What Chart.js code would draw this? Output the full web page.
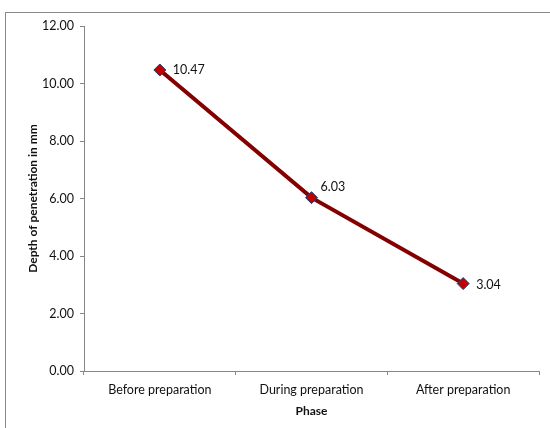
<!DOCTYPE html>
<html>
<head>
<meta charset="utf-8">
<script src="https://cdn.jsdelivr.net/npm/chart.js@4/dist/chart.umd.min.js"></script>
<style>
  html, body { margin: 0; padding: 0; background: #fff; }
  #wrap { width: 550px; height: 428px; position: relative; }
</style>
</head>
<body>
<div id="wrap"><canvas id="c" width="550" height="428"></canvas></div>
<script>
const categories = ["Before preparation", "During preparation", "After preparation"];
const depthValues = [10.47, 6.03, 3.04];
const yTicks = [0, 2, 4, 6, 8, 10, 12];
const xTitle = "Phase";
const yTitle = "Depth of penetration in mm";

const FONT = "Lato, 'Open Sans', sans-serif";

const frame = {
  id: 'frame',
  beforeDraw(chart) {
    const ctx = chart.ctx;
    ctx.save();
    ctx.strokeStyle = '#8a8a8a';
    ctx.lineWidth = 1;
    ctx.strokeRect(5.5, 12.5, 700, 700);
    ctx.restore();
  }
};

const labelOffsets = [[13, 0], [9, -11], [13, 1]];
const dataLabels = {
  id: 'dataLabels',
  afterDatasetsDraw(chart) {
    const ctx = chart.ctx;
    const meta = chart.getDatasetMeta(0);
    ctx.save();
    ctx.font = "12.5px " + FONT;
    ctx.fillStyle = '#111';
    ctx.textAlign = 'left';
    ctx.textBaseline = 'middle';
    meta.data.forEach((pt, i) => {
      const v = chart.data.datasets[0].data[i];
      const o = labelOffsets[i];
      ctx.fillText(v.toFixed(2), pt.x + o[0], pt.y + o[1]);
    });
    ctx.restore();
  }
};

new Chart(document.getElementById('c'), {
  type: 'line',
  data: {
    labels: categories,
    datasets: [{
      data: depthValues,
      borderColor: '#840000',
      borderWidth: 4,
      pointStyle: 'rectRot',
      pointRadius: 6,
      pointBackgroundColor: '#c00000',
      pointBorderColor: '#2a3a6a',
      pointBorderWidth: 1,
      tension: 0,
      fill: false
    }]
  },
  options: {
    responsive: false,
    animation: false,
    devicePixelRatio: 1,
    layout: { padding: { left: 0, top: 26, right: 11, bottom: 0 } },
    plugins: { legend: { display: false }, tooltip: { enabled: false } },
    scales: {
      x: {
        type: 'category',
        offset: true,
        afterFit(s) { s.height = 57; },
        grid: { offset: true, drawOnChartArea: false, tickLength: 4, color: '#868686' },
        border: { color: '#868686', width: 1 },
        ticks: { padding: 7, color: '#111', font: { family: FONT, size: 12.5 }, maxRotation: 0 },
        title: { display: true, text: xTitle, color: '#111', font: { family: FONT, size: 12, weight: 'bold' }, padding: { top: 0, bottom: 10 } }
      },
      y: {
        min: 0,
        max: 12,
        afterFit(s) { s.width = 84; },
        afterBuildTicks(s) { s.ticks = yTicks.map(v => ({ value: v })); },
        grid: { drawOnChartArea: false, tickLength: 4, color: '#868686' },
        border: { color: '#868686', width: 1 },
        ticks: { padding: 6, color: '#111', font: { family: FONT, size: 12.5 }, callback: v => Number(v).toFixed(2) },
        title: { display: true, text: yTitle, color: '#111', font: { family: FONT, size: 12, weight: 'bold' }, padding: { top: 26, bottom: 0 } }
      }
    }
  },
  plugins: [frame, dataLabels]
});
</script>
</body>
</html>
